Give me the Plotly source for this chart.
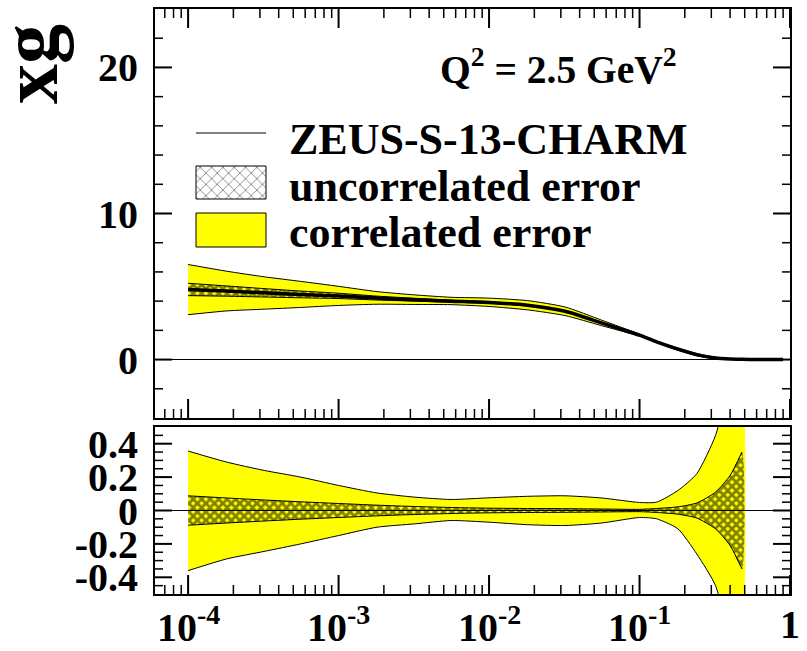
import math
import plotly.graph_objects as go

# ---- data -----------------------------------------------------------------
x = [1e-4, 1.8e-4, 3.2e-4, 5.6e-4, 1e-3, 1.8e-3, 3.2e-3, 5.6e-3, 1e-2, 1.8e-2,
     3.2e-2, 5.6e-2, 0.1, 0.13, 0.18, 0.24, 0.32, 0.40, 0.48]
xg = [4.80, 4.69, 4.57, 4.46, 4.36, 4.21, 4.10, 4.00, 3.91, 3.72,
      3.31, 2.51, 1.67, 1.21, 0.71, 0.34, 0.11, 0.04, 0.02]
# tail of the central fit beyond the last error point
x_tail = [0.48, 0.6, 0.75, 0.9]
xg_tail = [0.02, 0.005, 0.0, 0.0]

# relative correlated error (upper / lower magnitude)
corr_up = [0.356, 0.29, 0.24, 0.20, 0.15, 0.105, 0.08, 0.066, 0.076, 0.085,
           0.088, 0.075, 0.048, 0.05, 0.12, 0.22, 0.45, 0.8, 1.2]
corr_dn = [0.36, 0.29, 0.245, 0.20, 0.15, 0.10, 0.08, 0.06, 0.07, 0.085,
           0.09, 0.075, 0.042, 0.05, 0.11, 0.26, 0.45, 0.8, 1.1]
# relative uncorrelated error (symmetric)
unc = [0.088, 0.075, 0.063, 0.052, 0.042, 0.032, 0.024, 0.018, 0.014, 0.012,
       0.011, 0.009, 0.007, 0.012, 0.022, 0.045, 0.11, 0.21, 0.35]

x_ticks = [1e-4, 1e-3, 1e-2, 1e-1, 1]
x_ticktext = ["10<sup>-4</sup>", "10<sup>-3</sup>", "10<sup>-2</sup>", "10<sup>-1</sup>", "1"]
y_top_ticks = [0, 10, 20]
y_bot_ticks = [-0.4, -0.2, 0, 0.2, 0.4]
y_bot_ticktext = ["-0.4", "-0.2", "0", "0.2", "0.4"]

legend_labels = ["ZEUS-S-13-CHARM", "uncorrelated error", "correlated error"]
q2_label = "Q<sup>2</sup> = 2.5 GeV<sup>2</sup>"
y_title = "xg"

# ---- layout geometry ------------------------------------------------------
FONT = "Liberation Serif"
YELLOW = "#ffff00"
W, H = 807, 651
ML, MR, MT, MB = 155, 17, 9, 57
PW, PH = W - ML - MR, H - MT - MB
TOP_BOTTOM_PX, BOT_TOP_PX = 418, 427
X_RANGE = [-4.22, 0.0]
Y_TOP_RANGE = [-4, 24]
Y_BOT_RANGE = [-0.5, 0.5]
TOP_H_PX = TOP_BOTTOM_PX - MT
BOT_H_PX = H - MB - BOT_TOP_PX


def px(xp):
    return (xp - ML) / PW


def py(yp):
    return (H - MB - yp) / PH


def top_x(xp):
    # pixel column -> data x on the log axis
    return 10 ** (X_RANGE[0] + (xp - ML) / PW * (X_RANGE[1] - X_RANGE[0]))


def top_y(yp):
    # pixel row -> data y on the top-panel axis
    return Y_TOP_RANGE[0] + (TOP_BOTTOM_PX - yp) / TOP_H_PX * (Y_TOP_RANGE[1] - Y_TOP_RANGE[0])


HATCH = dict(shape="x", fgcolor="black", size=6, solidity=0.7)
TICK_COLOR = "black"

fig = go.Figure()

# ---- tick marks (inside, drawn as line segments) ---------------------------
minor_x = [m * 10 ** e for e in range(-5, 0) for m in range(2, 10)
           if X_RANGE[0] < math.log10(m * 10 ** e) < X_RANGE[1]]
X_PER_PX = (X_RANGE[1] - X_RANGE[0]) / PW


def x_ticks_for(xa, ya, yr, h_px, vals, length, width, top):
    unit = (yr[1] - yr[0]) / h_px
    for v in vals:
        ends = [(yr[0], yr[0] + length * unit)]
        if top:
            ends.append((yr[1], yr[1] - length * unit))
        for a, b in ends:
            fig.add_trace(go.Scatter(x=[v, v], y=[a, b], mode="lines",
                                     line=dict(color=TICK_COLOR, width=width),
                                     xaxis=xa, yaxis=ya, showlegend=False,
                                     hoverinfo="skip"))


def y_ticks_for(xa, ya, vals, length, width):
    xl0, xl1 = 10 ** X_RANGE[0], 10 ** (X_RANGE[0] + length * X_PER_PX)
    xr0, xr1 = 10 ** X_RANGE[1], 10 ** (X_RANGE[1] - length * X_PER_PX)
    for v in vals:
        for a, b in ((xl0, xl1), (xr0, xr1)):
            fig.add_trace(go.Scatter(x=[a, b], y=[v, v], mode="lines",
                                     line=dict(color=TICK_COLOR, width=width),
                                     xaxis=xa, yaxis=ya, showlegend=False,
                                     hoverinfo="skip"))


def add_band(lo, hi, fill, axes, pattern=None):
    xa, ya = axes
    fig.add_trace(go.Scatter(
        x=x + x[::-1], y=hi + lo[::-1], fill="toself", mode="none",
        fillcolor=fill, fillpattern=pattern, xaxis=xa, yaxis=ya,
        line=dict(shape="spline", smoothing=0.6),
        hoverinfo="skip", showlegend=False))
    for edge in (hi, lo):
        fig.add_trace(go.Scatter(
            x=x, y=edge, mode="lines",
            line=dict(color="black", width=1, shape="spline", smoothing=0.6),
            xaxis=xa, yaxis=ya, hoverinfo="skip", showlegend=False))


# top panel: absolute xg with bands
top_corr_hi = [v * (1 + e) for v, e in zip(xg, corr_up)]
top_corr_lo = [v * (1 - min(e, 1.0)) for v, e in zip(xg, corr_dn)]
top_unc_hi = [v * (1 + e) for v, e in zip(xg, unc)]
top_unc_lo = [v * (1 - e) for v, e in zip(xg, unc)]
add_band(top_corr_lo, top_corr_hi, YELLOW, ("x", "y"))
add_band(top_unc_lo, top_unc_hi, "rgba(0,0,0,0)", ("x", "y"), HATCH)
fig.add_trace(go.Scatter(x=x + x_tail[1:], y=xg + xg_tail[1:], mode="lines",
                         line=dict(color="black", width=3.5, shape="spline", smoothing=0.6),
                         xaxis="x", yaxis="y", showlegend=False))

# bottom panel: relative errors
add_band([-e for e in corr_dn], corr_up, YELLOW, ("x2", "y2"))
add_band([-e for e in unc], unc, "rgba(0,0,0,0)", ("x2", "y2"), HATCH)
fig.add_trace(go.Scatter(x=[top_x(ML), top_x(W - MR)], y=[0, 0], mode="lines",
                         line=dict(color="black", width=1), xaxis="x2", yaxis="y2",
                         showlegend=False, hoverinfo="skip"))

# legend keys (placed on the top-panel axes)
kx0, kx1 = top_x(196), top_x(266)
fig.add_trace(go.Scatter(x=[kx0, kx1], y=[top_y(133)] * 2, mode="lines",
                         line=dict(color="black", width=1),
                         showlegend=False, hoverinfo="skip"))
for (ya, yb), fc, pat in [((166, 199), "white",
                           dict(shape="x", fgcolor="black", bgcolor="white", size=8, solidity=0.2)),
                          ((213, 247), YELLOW, None)]:
    fig.add_trace(go.Scatter(x=[kx0, kx1, kx1, kx0, kx0],
                             y=[top_y(ya), top_y(ya), top_y(yb), top_y(yb), top_y(ya)],
                             mode="lines", fill="toself", fillcolor=fc, fillpattern=pat,
                             line=dict(color="black", width=1),
                             showlegend=False, hoverinfo="skip"))

# ticks last so they sit above the bands
x_ticks_for("x", "y", Y_TOP_RANGE, TOP_H_PX, x_ticks, 19, 2, True)
x_ticks_for("x", "y", Y_TOP_RANGE, TOP_H_PX, minor_x, 9, 1.5, True)
x_ticks_for("x2", "y2", Y_BOT_RANGE, BOT_H_PX, x_ticks, 19, 2, False)
x_ticks_for("x2", "y2", Y_BOT_RANGE, BOT_H_PX, minor_x, 9, 1.5, False)
top_minor_y = [2 * k for k in range(-1, 12) if 2 * k not in y_top_ticks]
bot_minor_y = [round(0.05 * k, 2) for k in range(-9, 10)
               if all(abs(0.05 * k - t) > 1e-9 for t in y_bot_ticks)]
y_ticks_for("x", "y", y_top_ticks, 17, 2)
y_ticks_for("x", "y", top_minor_y, 8, 1.5)
y_ticks_for("x2", "y2", y_bot_ticks, 17, 2)
y_ticks_for("x2", "y2", bot_minor_y, 8, 1.5)

common_x = dict(type="log", range=X_RANGE, showgrid=False, zeroline=False,
                showline=True, linecolor="black", linewidth=2, automargin=False,
                ticks="", showticklabels=False, mirror=True)
common_y = dict(showgrid=False, showline=True, linecolor="black", linewidth=2,
                automargin=False, ticks="", mirror=True, zeroline=True,
                zerolinecolor="black", zerolinewidth=1, ticklabelstandoff=7,
                tickfont=dict(family=FONT, size=40, color="black", weight="bold"))

fig.update_layout(
    width=W, height=H,
    margin=dict(l=ML, r=MR, t=MT, b=MB),
    paper_bgcolor="white", plot_bgcolor="white",
    showlegend=False,
    xaxis=dict(common_x, anchor="y", domain=[0, 1]),
    yaxis=dict(common_y, anchor="x", domain=[py(TOP_BOTTOM_PX), 1], range=Y_TOP_RANGE,
               tickmode="array", tickvals=y_top_ticks),
    xaxis2=dict(common_x, anchor="y2", domain=[0, 1]),
    yaxis2=dict(common_y, anchor="x2", domain=[0, py(BOT_TOP_PX)], range=Y_BOT_RANGE,
                tickmode="array", tickvals=y_bot_ticks, ticktext=y_bot_ticktext),
)

ann_font = dict(family=FONT, color="black", weight="bold")
# x-axis labels under the lower panel
for v, t in zip(x_ticks, x_ticktext):
    xf = (math.log10(v) - X_RANGE[0]) / (X_RANGE[1] - X_RANGE[0])
    fig.add_annotation(x=xf, y=py(624), xref="paper", yref="paper",
                       text=t, showarrow=False, font=dict(ann_font, size=40),
                       xanchor="center", yanchor="middle")
fig.add_annotation(x=px(30), y=py(64), xref="paper", yref="paper",
                   text=y_title, textangle=-90, showarrow=False,
                   font=dict(ann_font, size=80), xanchor="center", yanchor="middle")
fig.add_annotation(x=px(438), y=py(66), xref="paper", yref="paper",
                   text=q2_label, showarrow=False,
                   font=dict(ann_font, size=39.5), xanchor="left", yanchor="middle")
for lbl, base in zip(legend_labels, [153, 200, 247]):
    fig.add_annotation(x=px(287), y=py(base - 14), xref="paper", yref="paper",
                       text=lbl, showarrow=False,
                       font=dict(ann_font, size=44), xanchor="left", yanchor="middle")

fig.write_html("out.html")
